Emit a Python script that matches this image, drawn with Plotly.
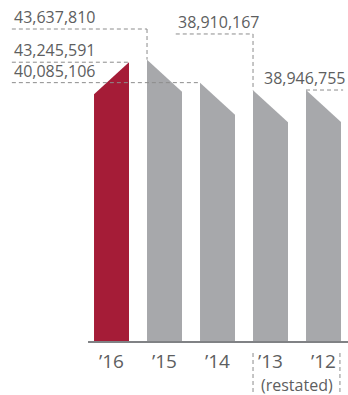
import plotly.graph_objects as go

# Yearly totals
years = ["’16", "’15", "’14", "’13", "’12"]
values = [43245591, 43637810, 40085106, 38910167, 38946755]
labels = ["43,245,591", "43,637,810", "40,085,106", "38,910,167", "38,946,755"]
bar_colors = ["#a51c37", "#a7a8ab", "#a7a8ab", "#a7a8ab", "#a7a8ab"]

W, H = 348, 395
BAR_W = 0.66          # bar width in category units
BEVEL = 4.95e6        # depth of the slanted cut on each bar top
X_RANGE = [-2.104, 4.462]
Y_RANGE = [-8.19e6, 52.86e6]
LABEL_X = -1.88       # left edge of the stacked labels
DASH_COLOR = "#8c8c8c"
TEXT_COLOR = "#5d5e60"
FONT = "Open Sans"

fig = go.Figure()

# Bars with a slanted top: the current year rises to the right, prior years fall
for i, (v, c) in enumerate(zip(values, bar_colors)):
    x0, x1 = i - BAR_W / 2, i + BAR_W / 2
    xs = [x0, x0, x1, x1, x0]
    if i == 0:
        ys = [0, v - BEVEL, v, 0, 0]
    else:
        ys = [0, v, v - BEVEL, 0, 0]
    fig.add_trace(go.Scatter(x=xs, y=ys, fill="toself", fillcolor=c,
                             mode="none", hoverinfo="skip", showlegend=False))

dash = dict(color=DASH_COLOR, width=1, dash="4px,3px")
shapes = []
annotations = []

def hline(xa, xb, y):
    shapes.append(dict(type="line", xref="x", yref="y", x0=xa, x1=xb, y0=y, y1=y, line=dash, layer="above"))

def vline(x, ya, yb):
    shapes.append(dict(type="line", xref="x", yref="y", x0=x, x1=x, y0=ya, y1=yb, line=dash, layer="above"))

def value_label(x, y, text, anchor="left"):
    annotations.append(dict(x=x, y=y, xref="x", yref="y", text=text, showarrow=False,
                            xanchor=anchor, yanchor="bottom", yshift=-1,
                            font=dict(family=FONT, size=16, color=TEXT_COLOR)))

# '16: line to the high right corner
v = values[0]
hline(LABEL_X, 0 + BAR_W / 2, v)
value_label(LABEL_X, v, labels[0])

# '15: label raised above, with a drop to the bar's left corner
v = values[1]
y_lab = v + 4.74e6
hline(LABEL_X, 1 - BAR_W / 2, y_lab)
vline(1 - BAR_W / 2, y_lab, v)
value_label(LABEL_X, y_lab, labels[1])

# '14: long line across to the bar's left corner
v = values[2]
hline(LABEL_X, 2 - BAR_W / 2, v)
value_label(LABEL_X, v, labels[2])

# '13: label raised above, with a drop to the bar's left corner
v = values[3]
y_lab = v + 8.7e6
x_start = 1.212
hline(x_start, 3 - BAR_W / 2, y_lab)
vline(3 - BAR_W / 2, y_lab, v)
value_label(x_start, y_lab, labels[3])

# '12: short line over the bar top
v = values[4]
hline(4 - BAR_W / 2, 4 + BAR_W / 2 + 0.04, v)
value_label(4 + BAR_W / 2 + 0.12, v, labels[4], anchor="right")

# Baseline
shapes.append(dict(type="line", xref="x", yref="y", x0=-0.443, x1=X_RANGE[1], y0=0, y1=0,
                   line=dict(color="#808285", width=2), layer="above"))

# Year labels under the baseline
for i, yr in enumerate(years):
    annotations.append(dict(x=i, y=0, xref="x", yref="y", text=yr, showarrow=False,
                            xanchor="center", yanchor="middle", yshift=-19, borderpad=0,
                            font=dict(family=FONT, size=19, color=TEXT_COLOR)))
annotations.append(dict(x=3.5, y=0, xref="x", yref="y", text="(restated)", showarrow=False,
                        xanchor="center", yanchor="middle", yshift=-42.5, borderpad=0,
                        font=dict(family=FONT, size=16, color=TEXT_COLOR)))

# Bracket around the restated years
for xb in (3 - BAR_W / 2, 4 + BAR_W / 2 - 0.02):
    shapes.append(dict(type="line", xref="x", yref="y", x0=xb, x1=xb,
                       y0=-1.7e6, y1=Y_RANGE[0], line=dash, layer="above"))

fig.update_layout(
    width=W, height=H,
    margin=dict(l=0, r=0, t=0, b=0),
    paper_bgcolor="white", plot_bgcolor="white",
    xaxis=dict(range=X_RANGE, visible=False, fixedrange=True),
    yaxis=dict(range=Y_RANGE, visible=False, fixedrange=True),
    shapes=shapes, annotations=annotations,
    showlegend=False,
)

fig.write_html("out.html", config={"displayModeBar": False})
